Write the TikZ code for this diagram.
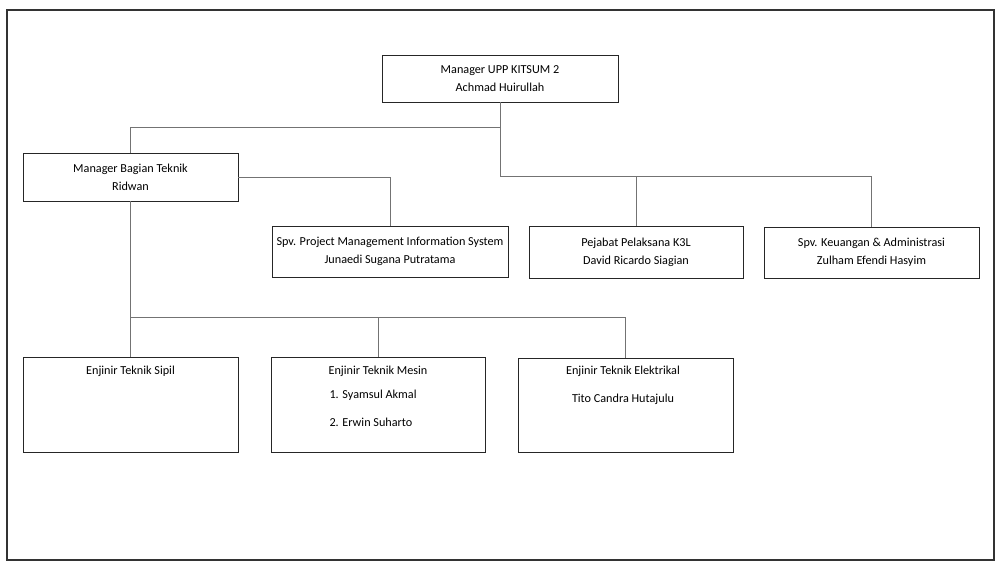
\documentclass[tikz,border=0pt]{standalone}
\usepackage{fontspec}
\setmainfont{Carlito}
\usepackage{tikz}
\newcommand{\lien}{\draw[draw=black!55, line width=0.7pt]}

\begin{document}
\begin{tikzpicture}[x=1pt, y=-1pt,
        poste/.style={draw=black!85, line width=0.9pt, inner sep=0pt, align=center,
            font=\fontsize{12.2}{18}\selectfont},
        titre/.style={font=\fontsize{12.2}{18}\selectfont}]
                \useasboundingbox (0,0) rectangle (997,565);
                \draw[line width=2.2pt, black!80] (7,10) rectangle (994,560);

                \node[poste, minimum width=236pt, minimum height=47pt] (m) at (500,78.5) {Manager UPP KITSUM 2\\Achmad Huirullah};
                \node[poste, minimum width=215pt, minimum height=48pt] (bt) at (130.5,177) {Manager Bagian Teknik\\Ridwan};
                \node[poste, minimum width=236pt, minimum height=51pt] (pmis) at (390,251.5) {Spv. Project Management Information System\\Junaedi Sugana Putratama};
                \node[poste, minimum width=214pt, minimum height=52pt] (k3l) at (636,252) {Pejabat Pelaksana K3L\\David Ricardo Siagian};
                \node[poste, minimum width=215pt, minimum height=51pt] (keu) at (871.5,252.5) {Spv. Keuangan \& Administrasi\\Zulham Efendi Hasyim};

                \node[poste, minimum width=215pt, minimum height=95pt] (sipil) at (130.5,404.5) {};
                \node[poste, minimum width=214pt, minimum height=95pt] (mesin) at (378,404.5) {};
                \node[poste, minimum width=215pt, minimum height=94pt] (elek) at (625.5,405) {};

                \node[titre] (sipil1) at (130.5,371) {Enjinir Teknik Sipil};
                \node[titre] (mesin1) at (378,371) {Enjinir Teknik Mesin};
                \node[titre, anchor=west] (mesin2) at (326,395) {1. Syamsul Akmal};
                \node[titre, anchor=west] (mesin3) at (326,422) {2. Erwin Suharto};
                \node[titre] (elek1) at (623,371) {Enjinir Teknik Elektrikal};
                \node[titre] (elek2) at (623,399) {Tito Candra Hutajulu};

                \coordinate (j1) at (500,127);
                \coordinate (j2) at (500,176);
                \coordinate (j3) at (130.5,317);

                \lien (m.south) -- (j1) -| (bt.north);
                \lien (m.south) -- (j2) -| (keu.north);
                \lien (j2) -| (k3l.north);
                \lien (bt.east) -| (pmis.north);

                \lien (bt.south) -- (j3) -- (sipil.north);
                \lien (j3) -| (mesin.north);
                \lien (j3) -| (elek.north);
            \end{tikzpicture}
\end{document}
